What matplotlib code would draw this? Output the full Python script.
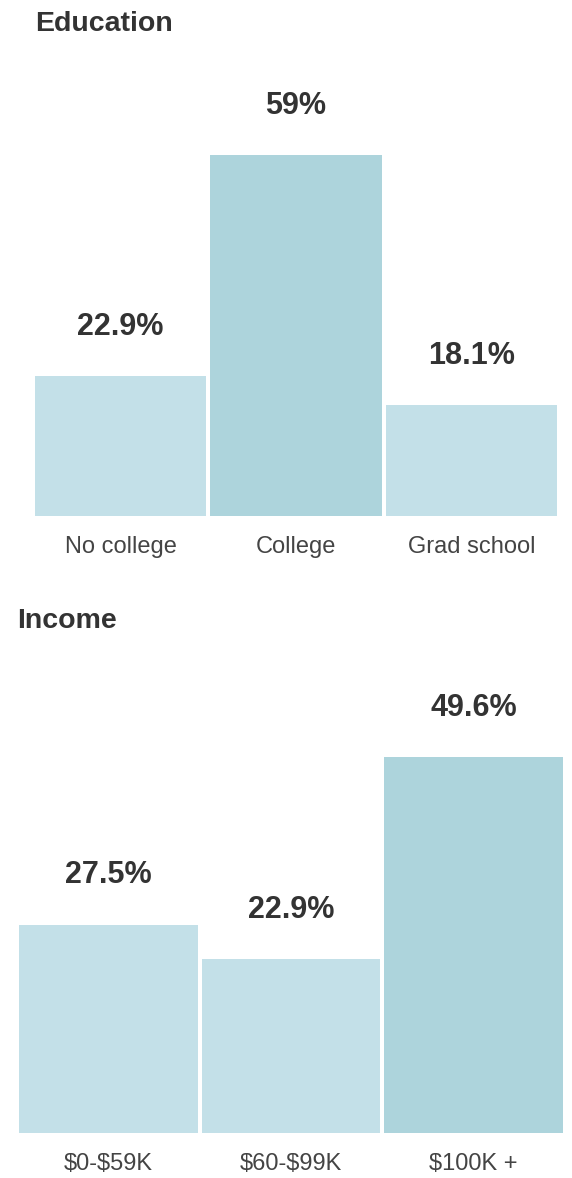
import matplotlib.pyplot as plt
import numpy as np

plt.rcParams['font.family'] = ['Liberation Sans', 'DejaVu Sans']
plt.rcParams['text.parse_math'] = False

W, H = 572, 1178

edu_labels = ["No college", "College", "Grad school"]
edu_values = [22.9, 59, 18.1]
edu_text = ["22.9%", "59%", "18.1%"]

inc_labels = ["$0-$59K", "$60-$99K", "$100K +"]
inc_values = [27.5, 22.9, 49.6]
inc_text = ["27.5%", "22.9%", "49.6%"]

light = "#c3e0e8"
dark = "#add4dc"

fig = plt.figure(figsize=(W / 100, H / 100), dpi=100)


def panel(left, right, base, top, title, title_x, title_y, labels, values, texts):
    # pixel box -> figure fraction
    ax = fig.add_axes([left / W, 1 - base / H, (right - left) / W, (base - top) / H])
    vmax = max(values)
    colors = [dark if v == vmax else light for v in values]
    x = np.arange(len(values))
    ax.bar(x, values, width=0.978, color=colors, edgecolor='none')
    ax.set_xlim(-0.5, len(values) - 0.5)
    ax.set_ylim(0, vmax)
    ax.axis('off')
    for i, (v, t, lab) in enumerate(zip(values, texts, labels)):
        ax.annotate(t, (i, v), xytext=(0, 35.5), textcoords='offset points',
                    ha='center', va='center', fontsize=22, fontweight='bold',
                    color='#333333', annotation_clip=False)
        ax.annotate(lab, (i, 0), xytext=(0, -22), textcoords='offset points',
                    ha='center', va='center', fontsize=17, color='#444444',
                    annotation_clip=False)
    fig.text(title_x / W, 1 - title_y / H, title, ha='left', va='center',
             fontsize=20.5, fontweight='bold', color='#333333')
    return ax


panel(33, 559, 516, 155, "Education", 35, 24, edu_labels, edu_values, edu_text)
panel(17, 565, 1133, 757, "Income", 17, 621, inc_labels, inc_values, inc_text)

fig.savefig("out.png", dpi=100, facecolor='white')
